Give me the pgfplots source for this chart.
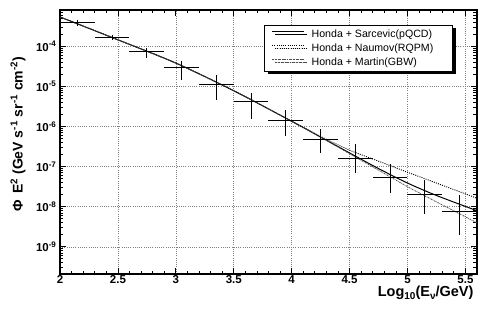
\documentclass[border=0pt]{standalone}
\usepackage{fontspec}
\setmainfont{Liberation Sans}
\usepackage{pgfplots}
\pgfplotsset{compat=1.18}
\usetikzlibrary{shadows}
\newcommand\lsub[1]{\raisebox{-0.45ex}{\fontsize{10}{10}\selectfont #1}}

\pgfplotstableread{
x    y         ex    eyp       eym
2.15 3.802e-4  0.15  0.665e-4  0.640e-4
2.45 1.660e-4  0.15  0.290e-4  0.247e-4
2.75 7.244e-5  0.15  1.876e-5  2.115e-5
3.05 2.951e-5  0.15  1.218e-5  1.472e-5
3.35 1.096e-5  0.15  7.88e-6   6.49e-6
3.65 4.074e-6  0.15  2.844e-6  2.525e-6
3.95 1.413e-6  0.15  1.099e-6  8.38e-7
4.25 4.732e-7  0.15  3.978e-7  2.544e-7
4.55 1.622e-7  0.15  2.093e-7  9.30e-8
4.85 5.370e-8  0.15  6.38e-8   3.18e-8
5.15 1.995e-8  0.15  2.682e-8  1.319e-8
5.45 7.762e-9  0.15  1.219e-8  5.767e-9
}\datatable

\begin{document}
\begin{tikzpicture}
\begin{axis}[
  at={(0,0)}, anchor=south west,
  width=417pt, height=264pt, scale only axis,
  xmin=2, xmax=5.6, ymin=2.1e-10, ymax=8e-4,
  ymode=log, log basis y=10,
  xtick={2,2.5,3,3.5,4,4.5,5,5.5},
  xticklabels={2,2.5,3,3.5,4,4.5,5,5.5},
  minor x tick num=4,
  yticklabel={\pgfmathtruncatemacro\myexp{round(\tick)}10\textsuperscript{\myexp}},
  tick label style={font=\bfseries\fontsize{11.5}{12}\selectfont, black},
  xticklabel style={yshift=2pt},
  tick align=inside,
  major tick length=6pt, minor tick length=3.5pt,
  every tick/.style={black, line width=0.8pt},
  axis line style={line width=1.1pt},
  grid=major,
  major grid style={gray, line width=0.5pt, dash pattern=on 1pt off 1.2pt},
  xlabel={Log\lsub{10}(E\lsub{ν}/GeV)},
  xlabel style={at={(axis description cs:1,0)}, anchor=base east, yshift=-22pt, font=\bfseries\fontsize{14.5}{16}\selectfont},
  ylabel={Φ\, E\textsuperscript{2} (GeV s\textsuperscript{-1} sr\textsuperscript{-1} cm\textsuperscript{-2})},
  ylabel style={at={(axis description cs:-0.1007,0.53)}, anchor=center, font=\bfseries\fontsize{14}{16}\selectfont},
  legend style={at={(axis description cs:0.9424,0.9432)}, anchor=north east,
    draw=black, line width=0.6pt, fill=white,
    font=\fontsize{10.6}{12}\selectfont,
    nodes={inner sep=0pt, text height=8pt, text depth=2.5pt},
    cells={anchor=west}, row sep=3.5pt, inner xsep=7pt, inner ysep=3.75pt,
    /tikz/every odd column/.append style={column sep=7pt},
    drop shadow={shadow xshift=3pt, shadow yshift=-3pt, fill=black, opacity=1}},
  legend image code/.code={\draw[#1, line width=0.9pt] (0pt,2.75pt) -- (32pt,2.75pt);},
]
\addplot[black, line width=1pt, smooth] coordinates {
(2.0,5.37e-4) (2.5,1.445e-4) (3.0,3.802e-5) (3.5,7.762e-6) (4.0,1.349e-6)
(4.25,5.433e-7) (4.5,2.188e-7) (4.75,8.913e-8) (5.0,3.890e-8) (5.25,1.905e-8) (5.6,7.943e-9)};
\addlegendentry{\makebox[134pt][l]{Honda + Sarcevic(pQCD)}}
\addplot[black, line width=0.9pt, dash pattern=on 1pt off 1.2pt, smooth] coordinates {
(2.0,5.37e-4) (2.5,1.445e-4) (3.0,3.802e-5) (3.5,7.762e-6) (4.0,1.349e-6)
(4.25,5.623e-7) (4.5,2.570e-7) (4.75,1.365e-7) (5.0,7.244e-8) (5.25,3.890e-8) (5.6,1.622e-8)};
\addlegendentry{Honda + Naumov(RQPM)}
\addplot[black!70, line width=0.8pt, dash pattern=on 1.5pt off 0.8pt on 0.5pt off 0.8pt, smooth] coordinates {
(2.0,5.37e-4) (2.5,1.445e-4) (3.0,3.802e-5) (3.5,7.762e-6) (4.0,1.349e-6)
(4.25,5.433e-7) (4.5,2.089e-7) (4.75,8.128e-8) (5.0,3.162e-8) (5.25,1.318e-8) (5.6,3.981e-9)};
\addlegendentry{Honda + Martin(GBW)}
\addplot[draw=none, mark=none, forget plot,
  error bars/.cd, x dir=both, x explicit, y dir=both, y explicit,
  error mark=none, error bar style={line width=1pt, black, solid}]
  table[x=x, y=y, x error=ex, y error plus=eyp, y error minus=eym] {\datatable};
\end{axis}
\pgfresetboundingbox
\path[use as bounding box] (-60pt,-43pt) rectangle (425pt,274pt);
\end{tikzpicture}
\end{document}
